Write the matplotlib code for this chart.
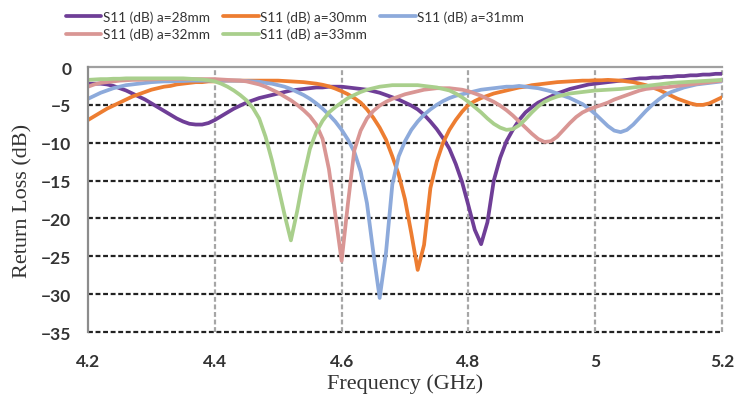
import numpy as np
import matplotlib
matplotlib.use("Agg")
import matplotlib.pyplot as plt

# frequency samples (GHz), one every 0.01 GHz
freq = np.round(np.arange(4.20, 5.2001, 0.01), 2)

# S11 (dB)
s11_28 = [
    -2.2, -2.2, -2.2, -2.3, -2.5, -2.8, -3.1, -3.5, -3.9, -4.3,
    -4.8, -5.3, -5.8, -6.3, -6.8, -7.2, -7.5, -7.6, -7.6, -7.4,
    -7.0, -6.5, -6.0, -5.5, -5.1, -4.7, -4.4, -4.1, -3.9, -3.7,
    -3.5, -3.3, -3.1, -3.0, -2.9, -2.8, -2.7, -2.7, -2.6, -2.6,
    -2.6, -2.7, -2.8, -2.9, -3.0, -3.2, -3.4, -3.7, -4.0, -4.3,
    -4.7, -5.1, -5.6, -6.3, -7.2, -8.2, -9.4, -10.8, -12.8, -15.2,
    -18.3, -21.5, -23.4, -20.5, -15.0, -12.0, -9.8, -8.3, -7.0, -6.0,
    -5.3, -4.7, -4.3, -3.9, -3.5, -3.2, -2.9, -2.7, -2.5, -2.3,
    -2.2, -2.1, -2.0, -1.9, -1.8, -1.7, -1.6, -1.5, -1.5, -1.4,
    -1.4, -1.3, -1.3, -1.2, -1.2, -1.1, -1.1, -1.0, -1.0, -0.9,
    -0.9,
]
s11_30 = [
    -7.0, -6.5, -6.0, -5.5, -5.1, -4.7, -4.3, -3.9, -3.6, -3.3,
    -3.0, -2.8, -2.6, -2.5, -2.3, -2.2, -2.1, -2.0, -2.0, -1.9,
    -1.9, -1.8, -1.8, -1.8, -1.8, -1.8, -1.8, -1.8, -1.8, -1.8,
    -1.8, -1.85, -1.9, -1.95, -2.0, -2.1, -2.2, -2.35, -2.55, -2.85,
    -3.2, -3.6, -4.1, -4.7, -5.6, -6.7, -8.0, -9.6, -11.8, -14.2,
    -17.5, -22.0, -26.8, -23.5, -16.0, -12.5, -10.0, -8.3, -7.0, -5.9,
    -5.0, -4.5, -4.1, -3.8, -3.5, -3.3, -3.1, -2.9, -2.7, -2.6,
    -2.4, -2.3, -2.2, -2.1, -2.0, -1.95, -1.9, -1.85, -1.8, -1.8,
    -1.75, -1.75, -1.7, -1.75, -1.8, -1.9, -2.0, -2.2, -2.4, -2.7,
    -3.0, -3.4, -3.8, -4.2, -4.5, -4.8, -5.0, -5.0, -4.8, -4.4,
    -4.0,
]
s11_31 = [
    -4.2, -3.8, -3.4, -3.1, -2.8, -2.6, -2.4, -2.3, -2.2, -2.1,
    -2.0, -1.95, -1.9, -1.9, -1.85, -1.85, -1.8, -1.8, -1.8, -1.8,
    -1.8, -1.8, -1.8, -1.8, -1.8, -1.85, -1.9, -1.95, -2.1, -2.2,
    -2.4, -2.6, -2.9, -3.3, -3.7, -4.2, -4.8, -5.5, -6.3, -7.2,
    -8.3, -9.6, -11.2, -13.8, -18.0, -24.5, -30.5, -24.5, -15.5, -11.8,
    -9.8, -8.3, -7.2, -6.3, -5.6, -5.0, -4.5, -4.1, -3.8, -3.6,
    -3.4, -3.2, -3.0, -2.9, -2.8, -2.7, -2.6, -2.6, -2.5, -2.6,
    -2.7, -2.8, -3.0, -3.2, -3.5, -3.8, -4.1, -4.5, -4.9, -5.5,
    -6.2, -7.0, -7.8, -8.4, -8.6, -8.3, -7.6, -6.7, -5.8, -5.0,
    -4.3, -3.7, -3.3, -3.0, -2.7, -2.5, -2.3, -2.2, -2.1, -2.0,
    -1.9,
]
s11_32 = [
    -2.6, -2.3, -2.1, -2.0, -1.9, -1.8, -1.75, -1.7, -1.7, -1.65,
    -1.65, -1.6, -1.6, -1.6, -1.6, -1.6, -1.6, -1.6, -1.6, -1.6,
    -1.6, -1.65, -1.7, -1.75, -1.8, -1.9, -2.1, -2.3, -2.6, -3.0,
    -3.4, -3.9, -4.4, -5.0, -5.7, -6.5, -7.6, -9.5, -13.5, -19.5,
    -25.6, -18.0, -11.0, -8.4, -6.8, -5.8, -5.1, -4.6, -4.2, -3.9,
    -3.6, -3.4, -3.2, -3.0, -2.9, -2.8, -2.8, -2.8, -2.9, -3.0,
    -3.2, -3.5, -3.8, -4.2, -4.6, -5.1, -5.7, -6.4, -7.2, -8.0,
    -8.8, -9.5, -9.9, -9.8, -9.2, -8.3, -7.4, -6.6, -6.0, -5.6,
    -5.3, -5.0, -4.7, -4.3, -4.0, -3.7, -3.4, -3.1, -2.9, -2.8,
    -2.7, -2.7, -2.6, -2.5, -2.4, -2.3, -2.2, -2.1, -2.0, -1.9,
    -1.8,
]
s11_33 = [
    -1.7, -1.65, -1.6, -1.6, -1.55, -1.55, -1.5, -1.5, -1.5, -1.5,
    -1.5, -1.5, -1.5, -1.5, -1.5, -1.5, -1.55, -1.6, -1.65, -1.75,
    -1.9, -2.2, -2.6, -3.1, -3.7, -4.4, -5.4, -6.8, -9.2, -12.3,
    -15.8, -19.5, -22.9, -19.0, -14.5, -10.8, -8.6, -7.1, -6.0, -5.3,
    -4.7, -4.1, -3.7, -3.3, -3.0, -2.8, -2.6, -2.5, -2.4, -2.4,
    -2.4, -2.4, -2.4, -2.5, -2.6, -2.7, -2.9, -3.1, -3.5, -4.0,
    -4.6, -5.3, -6.0, -6.8, -7.5, -8.0, -8.3, -8.2, -7.7, -6.9,
    -6.0, -5.2, -4.6, -4.2, -3.9, -3.7, -3.5, -3.4, -3.3, -3.2,
    -3.1, -3.05, -3.0, -2.95, -2.9, -2.8, -2.7, -2.6, -2.5, -2.4,
    -2.3, -2.2, -2.1, -2.05, -2.0, -1.95, -1.9, -1.85, -1.8, -1.75,
    -1.7,
]

labels = ["S11 (dB) a=28mm", "S11 (dB) a=30mm", "S11 (dB) a=31mm",
          "S11 (dB) a=32mm", "S11 (dB) a=33mm"]
colors = ["#6F3E97", "#ED7D31", "#8DAADB", "#D99694", "#A9CF8C"]
series = [s11_28, s11_30, s11_31, s11_32, s11_33]

x_ticks = [4.2, 4.4, 4.6, 4.8, 5.0, 5.2]
x_tick_labels = ["4.2", "4.4", "4.6", "4.8", "5", "5.2"]
y_ticks = [0, -5, -10, -15, -20, -25, -30, -35]

fig = plt.figure(figsize=(7.34, 4.06), dpi=100)
ax = fig.add_axes([0.1199, 0.1798, 0.8638, 0.6527])

lines = []
for vals, lab, col in zip(series, labels, colors):
    ln, = ax.plot(freq, vals, color=col, lw=2.7, label=lab,
                  solid_capstyle="round", solid_joinstyle="round")
    lines.append(ln)

ax.set_xlim(4.2, 5.2)
ax.set_ylim(-35, 0)
ax.set_xticks(x_ticks)
ax.set_xticklabels(x_tick_labels)
ax.set_yticks(y_ticks)

# horizontal grid black dashed, vertical grid grey dashed
for yv in y_ticks[1:]:
    ax.axhline(yv, color="#222222", lw=1.6, ls=(0, (2.2, 1.2)), zorder=0,
               clip_on=False)
for xv in x_ticks[1:]:
    ax.axvline(xv, color="#A6A6A6", lw=1.6, ls=(0, (2.2, 1.2)), zorder=0,
               clip_on=False)
ax.axhline(0, color="#A0A0A0", lw=1.6, zorder=0.5, clip_on=False)

for s in ["top", "right", "bottom"]:
    ax.spines[s].set_visible(False)
ax.spines["left"].set_color("#8C8C8C")
ax.spines["left"].set_linewidth(1.6)

ax.tick_params(length=0, labelsize=12.5, colors="#333333")
ax.tick_params(axis="y", pad=12)
ax.tick_params(axis="x", pad=15)
for t in ax.get_xticklabels() + ax.get_yticklabels():
    t.set_fontfamily("Lato")
    t.set_fontweight("bold")

ax.set_xlabel("Frequency (GHz)", family="Liberation Serif", fontsize=16,
              color="#333333", labelpad=3)
ax.set_ylabel("Return Loss (dB)", family="Liberation Serif", fontsize=16,
              color="#333333", labelpad=6)

order = [0, 3, 1, 4, 2]
leg = fig.legend([lines[i] for i in order], [labels[i] for i in order],
                 ncol=3, loc="upper left", bbox_to_anchor=(0.074, 1.0),
                 frameon=False, handlelength=2.6, handletextpad=0.1,
                 columnspacing=1.0, labelspacing=0.35, borderaxespad=0.45,
                 prop={"family": "Lato", "size": 9.8})
for t in leg.get_texts():
    t.set_color("#333333")

fig.savefig("out.png", dpi=100)
